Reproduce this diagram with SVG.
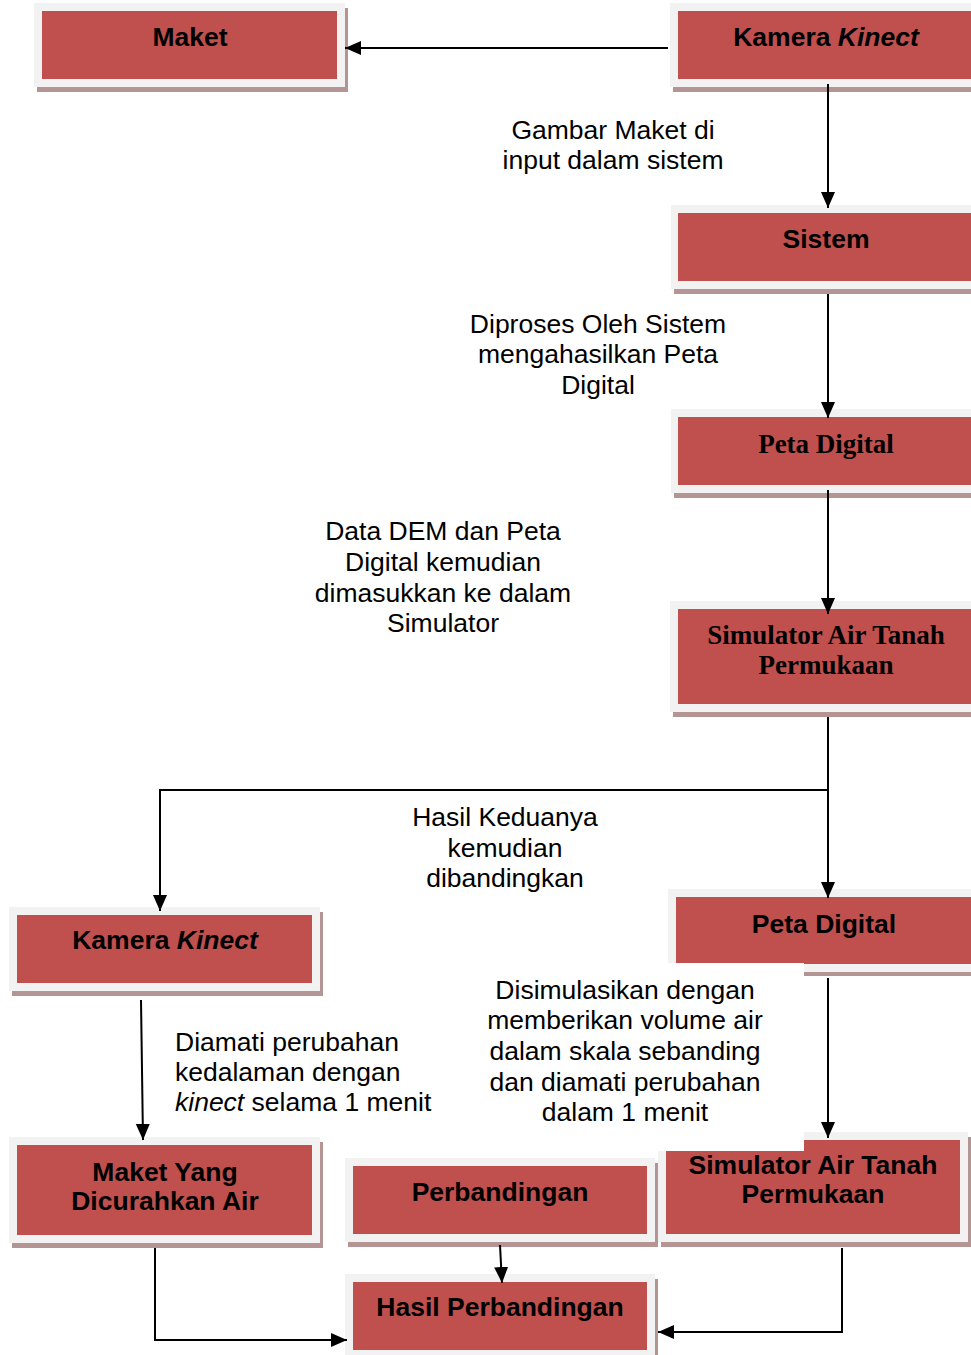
<svg xmlns="http://www.w3.org/2000/svg" width="971" height="1355" viewBox="0 0 971 1355">
<style>
.sh{fill:#b59494}
.fr{fill:#f2f2f2}
.rd{fill:#c0504d}
.bt{font-family:"Liberation Sans",Arial,sans-serif;font-size:26.5px;font-weight:bold;fill:#000;text-anchor:middle}
.bs{font-family:"Liberation Serif","Times New Roman",serif;font-size:27px;font-weight:bold;fill:#000;text-anchor:middle}
.lb{font-family:"Liberation Sans",Arial,sans-serif;font-size:26.5px;fill:#000;text-anchor:middle}
.ll{font-family:"Liberation Sans",Arial,sans-serif;font-size:26.5px;fill:#000}
.cn{fill:none;stroke:#000;stroke-width:2}
</style>
<defs>
<marker id="ah" markerUnits="userSpaceOnUse" markerWidth="18" markerHeight="16" refX="16" refY="7" orient="auto">
<path d="M0,0 L16,7 L0,14 z" fill="#000"/>
</marker>
</defs>
<rect width="971" height="1355" fill="#fff"/>

<g id="n-maket">
<rect class="sh" x="37" y="8" width="311" height="84"/>
<rect class="fr" x="34" y="3" width="311" height="84"/>
<rect class="rd" x="42" y="11" width="295" height="68"/>
<text class="bt" x="190" y="46">Maket</text>
</g>

<g id="n-kamera1">
<rect class="sh" x="673" y="8" width="311" height="84"/>
<rect class="fr" x="670" y="3" width="311" height="84"/>
<rect class="rd" x="678" y="11" width="295" height="68"/>
<text class="bt" x="826" y="46">Kamera <tspan font-style="italic">Kinect</tspan></text>
</g>

<g id="n-sistem">
<rect class="sh" x="674" y="210" width="311" height="84"/>
<rect class="fr" x="671" y="205" width="311" height="84"/>
<rect class="rd" x="678" y="213" width="295" height="68"/>
<text class="bt" x="826" y="248">Sistem</text>
</g>

<g id="n-peta1">
<rect class="sh" x="674" y="414" width="311" height="84"/>
<rect class="fr" x="671" y="409" width="311" height="84"/>
<rect class="rd" x="678" y="417" width="295" height="68"/>
<text class="bs" x="826" y="453">Peta Digital</text>
</g>

<g id="n-sim1">
<rect class="sh" x="673" y="606" width="311" height="111"/>
<rect class="fr" x="670" y="601" width="311" height="111"/>
<rect class="rd" x="678" y="609" width="295" height="95"/>
<text class="bs" x="826" y="644">Simulator Air Tanah</text>
<text class="bs" x="826" y="674">Permukaan</text>
</g>

<g id="n-kamera2">
<rect class="sh" x="12" y="912" width="311" height="84"/>
<rect class="fr" x="9" y="907" width="311" height="84"/>
<rect class="rd" x="17" y="915" width="295" height="68"/>
<text class="bt" x="165" y="949">Kamera <tspan font-style="italic">Kinect</tspan></text>
</g>

<g id="n-peta2">
<rect class="sh" x="671" y="894" width="311" height="82"/>
<rect class="fr" x="668" y="889" width="311" height="83"/>
<rect class="rd" x="676" y="897" width="295" height="67"/>
<text class="bt" x="824" y="933">Peta Digital</text>
<rect x="655" y="963" width="149" height="16" fill="#fff"/>
</g>

<g id="n-sim2">
<rect class="sh" x="661" y="1137" width="310" height="110"/>
<rect class="fr" x="658" y="1132" width="310" height="110"/>
<rect class="rd" x="666" y="1140" width="294" height="94"/>
<rect x="650" y="1120" width="154" height="31" fill="#fff"/>
<text class="bt" x="813" y="1174">Simulator Air Tanah</text>
<text class="bt" x="813" y="1203">Permukaan</text>
</g>

<g id="n-maketyang">
<rect class="sh" x="12" y="1142" width="311" height="106"/>
<rect class="fr" x="9" y="1137" width="311" height="106"/>
<rect class="rd" x="17" y="1145" width="295" height="90"/>
<text class="bt" x="165" y="1181">Maket Yang</text>
<text class="bt" x="165" y="1210">Dicurahkan Air</text>
</g>

<g id="n-perbandingan">
<rect class="sh" x="348" y="1163" width="310" height="84"/>
<rect class="fr" x="345" y="1158" width="310" height="84"/>
<rect class="rd" x="353" y="1166" width="294" height="68"/>
<text class="bt" x="500" y="1201">Perbandingan</text>
</g>

<g id="n-hasil">
<rect class="sh" x="348" y="1279" width="310" height="84"/>
<rect class="fr" x="345" y="1274" width="310" height="84"/>
<rect class="rd" x="353" y="1282" width="294" height="68"/>
<text class="bt" x="500" y="1316">Hasil Perbandingan</text>
</g>

<g id="connectors">
<path class="cn" d="M668,48 L345,48" marker-end="url(#ah)"/>
<path class="cn" d="M828,84 L828,208" marker-end="url(#ah)"/>
<path class="cn" d="M828,294 L828,418" marker-end="url(#ah)"/>
<path class="cn" d="M828,490 L828,614" marker-end="url(#ah)"/>
<path class="cn" d="M828,717 L828,898" marker-end="url(#ah)"/>
<path class="cn" d="M828,790 L160,790 L160,911" marker-end="url(#ah)"/>
<path class="cn" d="M141,1000 L143,1140" marker-end="url(#ah)"/>
<path class="cn" d="M828,978 L828,1138" marker-end="url(#ah)"/>
<path class="cn" d="M155,1248 L155,1340 L347,1340" marker-end="url(#ah)"/>
<path class="cn" d="M842,1248 L842,1332 L658,1332" marker-end="url(#ah)"/>
<path class="cn" d="M500,1245 L502,1283" marker-end="url(#ah)"/>
</g>

<g id="labels">
<text class="lb" x="613" y="139">Gambar Maket di</text>
<text class="lb" x="613" y="169">input dalam sistem</text>
<text class="lb" x="598" y="333">Diproses Oleh Sistem</text>
<text class="lb" x="598" y="363">mengahasilkan Peta</text>
<text class="lb" x="598" y="394">Digital</text>
<text class="lb" x="443" y="540">Data DEM dan Peta</text>
<text class="lb" x="443" y="571">Digital kemudian</text>
<text class="lb" x="443" y="602">dimasukkan ke dalam</text>
<text class="lb" x="443" y="632">Simulator</text>
<text class="lb" x="505" y="826">Hasil Keduanya</text>
<text class="lb" x="505" y="857">kemudian</text>
<text class="lb" x="505" y="887">dibandingkan</text>
<text class="lb" x="625" y="999">Disimulasikan dengan</text>
<text class="lb" x="625" y="1029">memberikan volume air</text>
<text class="lb" x="625" y="1060">dalam skala sebanding</text>
<text class="lb" x="625" y="1091">dan diamati perubahan</text>
<text class="lb" x="625" y="1121">dalam 1 menit</text>
<text class="ll" x="175" y="1051">Diamati perubahan</text>
<text class="ll" x="175" y="1081">kedalaman dengan</text>
<text class="ll" x="175" y="1111"><tspan font-style="italic">kinect</tspan> selama 1 menit</text>
</g>
</svg>
